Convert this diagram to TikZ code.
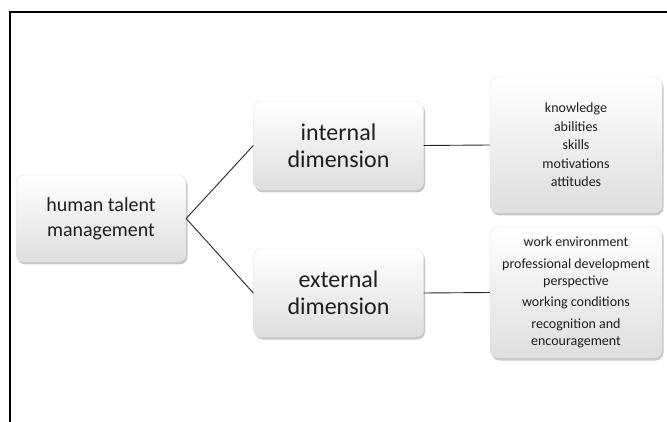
\documentclass[tikz,border=0pt]{standalone}
\usepackage{fontspec}
\setmainfont{Carlito}
\usepackage{tikz}
\usepackage{xcolor}
\usetikzlibrary{shadows}

\tikzset{
    kasten/.style={draw=black!12, rounded corners=8pt, top color=white, bottom color=black!13,
        drop shadow={shadow xshift=1.5pt, shadow yshift=-2.5pt, opacity=0.45},
        align=center, text=black!88, inner sep=2pt},
    linie/.style={draw=black!85, line width=0.9pt},
}

\begin{document}
\begin{tikzpicture}[x=1pt,y=-1pt]
    % Kastenbreite
    \def\bw{170pt}
    \def\fw{172pt}

    % Bildgröße und Rahmen
    \useasboundingbox (0,0) rectangle (667,422);
    \draw[line width=1.6pt] (10,422) -- (10,12) -- (667,12);

    % Kästen
    \node[kasten, minimum width=\bw, minimum height=87pt, font=\fontsize{20}{25}\selectfont]
        (htm) at (101,218.5) {human talent\\management};
    \node[kasten, minimum width=\bw, minimum height=89pt, font=\fontsize{24}{27}\selectfont]
        (intdim) at (338.5,145.5) {internal\\dimension};
    \node[kasten, minimum width=\bw, minimum height=88pt, font=\fontsize{24}{27}\selectfont]
        (extdim) at (338.5,293) {external\\dimension};

    \node[kasten, minimum width=\fw, minimum height=136pt, font=\fontsize{14}{16}\selectfont]
        (intfak) at (576,145) {knowledge\\[2.5pt] abilities\\[2.5pt] skills\\[2.5pt] motivations\\[2.5pt] attitudes};
    \node[kasten, minimum width=\fw, minimum height=131pt, font=\fontsize{14}{17}\selectfont]
        (extfak) at (576,292.5) {work environment\\[4.5pt] professional development\\ perspective\\[4.5pt]
            working conditions\\[4.5pt] recognition and\\ encouragement};

    % Verbindungen
    \foreach \a/\b in {htm/intdim, htm/extdim, intdim/intfak, extdim/extfak} {
        \draw[linie] (\a.east) -- (\b.west);
    }
\end{tikzpicture}
\end{document}
